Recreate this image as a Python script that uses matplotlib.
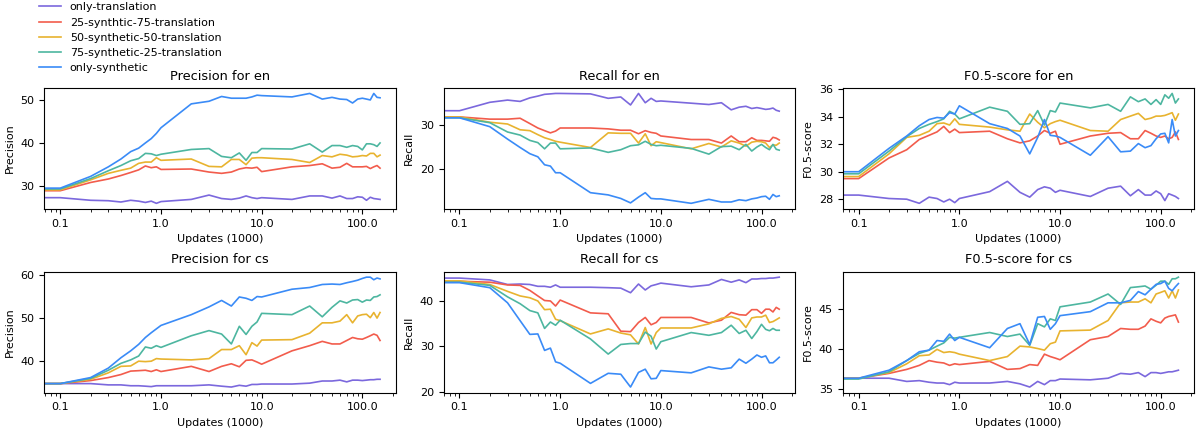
import matplotlib
matplotlib.use('Agg')
import matplotlib.pyplot as plt
from matplotlib.ticker import FormatStrFormatter

# update steps in thousands (first point is step 0)
updates = [0, 0.1, 0.2, 0.3, 0.4, 0.5, 0.6, 0.7, 0.8, 0.9,
           1, 2, 3, 4, 5, 6, 7, 8, 9,
           10, 20, 30, 40, 50, 60, 70, 80, 90,
           100, 110, 120, 130, 140, 150]

labels = ['only-translation', '25-synthtic-75-translation', '50-synthetic-50-translation',
          '75-synthetic-25-translation', 'only-synthetic']
colors = ['#7b68dd', '#f25c4c', '#e8b32f', '#4db6a0', '#3a8bf7']

# Precision for en
prec_en_t = [27.4, 27.4, 26.8, 26.7, 26.4, 26.8, 26.6, 26.3, 26.6, 26.1, 26.5, 27.0, 28.0, 27.2, 27.0, 27.3, 27.8,
             27.4, 27.2, 27.4, 27.0, 27.8, 27.8, 27.3, 27.8, 27.2, 27.2, 27.6, 27.5, 26.8, 27.5, 27.2, 27.1, 27.0]
prec_en_25 = [29.0, 29.0, 30.9, 31.7, 32.5, 33.2, 33.8, 34.7, 34.3, 34.5, 33.9, 34.0, 33.3, 33.0, 33.3, 34.0, 34.3,
              34.2, 34.4, 33.4, 34.5, 34.8, 35.2, 34.2, 34.4, 35.3, 34.5, 34.5, 34.5, 34.6, 34.1, 34.5, 34.8, 34.2]
prec_en_50 = [29.2, 29.2, 31.5, 33.0, 33.7, 34.2, 35.3, 35.6, 35.6, 36.6, 36.0, 36.3, 34.6, 34.5, 36.2, 36.2, 35.0,
              36.5, 36.6, 36.6, 36.2, 35.5, 37.1, 36.8, 37.4, 37.2, 36.8, 36.9, 37.1, 37.0, 37.6, 37.6, 36.8, 37.2]
prec_en_75 = [29.4, 29.4, 31.8, 33.6, 34.8, 35.9, 36.4, 37.6, 37.5, 37.1, 37.4, 38.5, 38.7, 36.9, 36.6, 37.7, 36.0,
              37.8, 37.8, 38.7, 38.6, 39.8, 37.9, 39.4, 39.4, 39.0, 39.4, 39.2, 38.4, 39.8, 39.8, 39.6, 39.2, 40.0]
prec_en_s = [29.6, 29.6, 32.3, 34.5, 36.3, 38.0, 38.8, 40.0, 41.0, 42.2, 43.5, 49.0, 49.6, 50.7, 50.3, 50.3, 50.3,
             50.6, 51.0, 50.9, 50.6, 51.4, 50.1, 50.5, 50.1, 50.0, 49.2, 50.1, 50.3, 50.1, 49.9, 51.4, 50.5, 50.4]

# Recall for en
rec_en_t = [33.1, 33.2, 35.1, 35.6, 35.3, 36.1, 36.5, 36.9, 37.0, 37.1, 37.1, 37.0, 36.0, 36.3, 34.5, 37.1, 35.0,
            36.0, 35.3, 35.4, 34.9, 34.6, 35.0, 33.4, 34.0, 34.2, 33.7, 33.9, 33.7, 33.5, 33.6, 33.8, 33.3, 33.1]
rec_en_25 = [31.8, 31.8, 31.3, 31.3, 31.5, 30.3, 29.3, 28.7, 28.2, 28.6, 29.3, 29.3, 29.1, 28.8, 28.8, 28.0, 28.7,
             28.3, 28.1, 27.5, 26.7, 26.7, 25.9, 27.5, 26.2, 26.2, 27.1, 26.5, 26.5, 26.4, 26.3, 27.2, 27.0, 26.6]
rec_en_50 = [31.8, 31.8, 30.6, 30.2, 28.9, 28.7, 27.8, 27.1, 26.7, 26.3, 26.1, 24.9, 28.2, 28.1, 28.1, 25.9, 28.0,
             25.3, 26.2, 26.0, 24.6, 25.8, 25.0, 26.4, 25.9, 25.2, 26.1, 26.3, 26.2, 25.9, 24.9, 25.5, 25.4, 25.9]
rec_en_75 = [31.6, 31.6, 30.5, 28.4, 27.7, 26.5, 26.0, 24.6, 25.9, 25.9, 24.6, 24.8, 23.8, 24.4, 25.3, 25.5, 26.3,
             25.6, 25.3, 25.4, 24.7, 23.4, 25.1, 25.2, 24.4, 25.6, 24.1, 25.0, 25.6, 24.9, 24.4, 25.6, 24.5, 24.3]
rec_en_s = [31.6, 31.6, 29.6, 26.8, 24.9, 23.5, 22.8, 21.0, 20.7, 19.2, 19.2, 14.7, 14.2, 13.4, 12.4, 13.7, 14.7,
            13.4, 13.3, 13.3, 12.3, 13.2, 12.6, 12.6, 13.1, 12.9, 13.3, 13.5, 13.8, 13.9, 13.2, 14.3, 13.8, 14.0]

# F0.5-score for en
f_en_t = [28.3, 28.3, 28.05, 28.0, 27.7, 28.15, 28.05, 27.8, 28.0, 27.75, 28.05, 28.55, 29.3, 28.5, 28.15, 28.7, 28.9,
          28.8, 28.5, 28.65, 28.2, 28.8, 28.95, 28.25, 28.7, 28.3, 28.3, 28.6, 28.4, 27.9, 28.4, 28.3, 28.2, 28.05]
f_en_25 = [29.5, 29.5, 31.0, 31.6, 32.35, 32.65, 32.9, 33.3, 32.85, 33.1, 32.85, 32.95, 32.4, 32.1, 32.25, 32.6, 33.0,
           32.8, 32.95, 32.0, 32.6, 32.8, 32.85, 32.4, 32.4, 33.0, 32.8, 32.6, 32.5, 32.6, 32.4, 32.5, 32.9, 32.35]
f_en_50 = [29.65, 29.65, 31.3, 32.5, 32.65, 32.95, 33.5, 33.55, 33.4, 33.85, 33.45, 33.25, 33.05, 32.95, 34.2, 33.6, 33.2,
           33.5, 33.65, 33.75, 33.0, 32.95, 33.8, 34.05, 34.25, 33.8, 33.9, 34.05, 34.05, 34.1, 34.2, 34.3, 33.75, 34.2]
f_en_75 = [29.85, 29.85, 31.5, 32.55, 33.15, 33.45, 33.65, 33.85, 34.4, 34.2, 33.85, 34.7, 34.4, 33.45, 33.5, 34.45, 33.4,
           34.45, 34.35, 35.0, 34.65, 34.9, 34.4, 35.45, 35.1, 35.3, 34.9, 35.25, 34.9, 35.6, 35.35, 35.7, 35.0, 35.3]
f_en_s = [30.0, 30.0, 31.7, 32.6, 33.35, 33.8, 33.95, 33.9, 34.3, 34.2, 34.8, 33.5, 33.15, 32.6, 31.3, 32.5, 33.8,
          32.65, 32.6, 32.5, 31.2, 32.55, 31.45, 31.5, 32.05, 31.75, 31.9, 32.4, 32.75, 32.8, 32.1, 33.8, 32.6, 33.0]

# Precision for cs
prec_cs_t = [34.8, 34.8, 34.8, 34.5, 34.5, 34.3, 34.3, 34.2, 34.1, 34.3, 34.3, 34.3, 34.5, 34.2, 34.0, 34.4, 34.2,
             34.6, 34.6, 34.7, 34.7, 34.9, 35.4, 35.4, 35.6, 35.2, 35.6, 35.6, 35.5, 35.6, 35.7, 35.7, 35.8, 35.8]
prec_cs_25 = [34.8, 34.8, 35.5, 36.2, 36.9, 37.7, 37.8, 37.9, 37.6, 38.0, 37.6, 38.8, 37.6, 38.8, 39.4, 38.7, 40.2,
              40.3, 39.8, 39.3, 42.4, 43.6, 44.6, 44.0, 44.0, 44.8, 45.5, 45.2, 45.1, 45.5, 45.9, 46.3, 46.0, 44.8]
prec_cs_50 = [34.8, 34.8, 35.8, 37.3, 38.8, 38.9, 40.0, 39.9, 40.0, 40.6, 40.5, 40.3, 40.6, 42.7, 42.7, 43.6, 41.5,
              44.3, 43.5, 44.9, 45.0, 46.5, 48.9, 48.9, 49.3, 50.8, 48.9, 50.5, 50.8, 50.9, 50.1, 51.3, 50.0, 51.3]
prec_cs_75 = [34.8, 34.8, 36.0, 37.9, 39.5, 40.3, 41.2, 43.3, 43.0, 43.6, 43.2, 45.9, 47.1, 46.3, 44.0, 48.1, 46.2,
              48.1, 49.1, 51.1, 50.8, 52.8, 50.3, 52.5, 54.0, 53.5, 54.2, 54.3, 53.7, 54.2, 54.1, 54.9, 55.0, 55.4]
prec_cs_s = [34.8, 34.8, 36.2, 38.4, 40.8, 42.4, 43.9, 45.5, 46.6, 47.5, 48.3, 50.8, 52.6, 54.1, 52.8, 54.9, 54.6,
             54.1, 55.0, 54.9, 56.7, 57.1, 57.8, 57.9, 57.8, 58.2, 58.5, 58.8, 59.2, 59.5, 59.5, 58.9, 59.3, 59.1]

# Recall for cs
rec_cs_t = [44.9, 44.9, 44.5, 43.5, 43.6, 43.5, 43.1, 43.1, 42.9, 43.4, 42.9, 42.9, 42.8, 42.7, 41.7, 43.6, 42.3,
            43.2, 43.5, 43.8, 43.0, 43.4, 44.6, 44.0, 44.5, 43.9, 44.7, 44.7, 44.8, 44.8, 44.9, 44.9, 45.0, 45.1]
rec_cs_25 = [44.2, 44.2, 44.0, 43.4, 43.3, 42.2, 41.0, 40.0, 39.9, 38.8, 40.1, 37.3, 37.1, 33.3, 33.2, 35.2, 36.3,
             34.7, 35.2, 36.3, 36.3, 35.1, 35.7, 37.4, 36.9, 36.8, 38.0, 38.0, 37.2, 38.1, 38.1, 37.5, 38.5, 38.1]
rec_cs_50 = [44.3, 44.3, 43.5, 42.0, 41.0, 40.6, 39.9, 38.0, 38.1, 35.9, 35.6, 32.7, 33.8, 32.9, 32.5, 30.5, 34.1,
             30.5, 33.0, 34.0, 34.0, 34.9, 36.1, 36.5, 35.9, 34.1, 36.2, 36.4, 36.4, 36.8, 35.2, 35.4, 35.8, 36.2]
rec_cs_75 = [44.0, 44.0, 43.3, 40.8, 39.3, 37.8, 37.3, 33.9, 35.3, 34.6, 35.7, 31.6, 28.3, 30.4, 30.6, 30.6, 33.1,
             32.2, 29.4, 31.0, 33.0, 32.4, 33.0, 34.6, 32.8, 33.5, 31.7, 33.2, 34.8, 33.7, 33.4, 33.9, 33.5, 33.5]
rec_cs_s = [43.9, 43.9, 42.8, 39.5, 35.6, 32.6, 32.7, 29.1, 29.6, 26.6, 26.3, 21.9, 24.1, 23.9, 21.1, 24.3, 25.0,
            22.9, 23.0, 24.7, 24.2, 25.5, 25.0, 25.3, 27.2, 26.3, 27.2, 28.1, 27.6, 27.9, 26.4, 26.4, 27.0, 27.6]

# F0.5-score for cs
f_cs_t = [36.4, 36.4, 36.4, 36.0, 36.1, 35.9, 35.8, 35.8, 35.6, 35.9, 35.8, 35.8, 36.0, 35.7, 35.3, 36.0, 35.6,
          36.1, 36.1, 36.3, 36.2, 36.4, 37.0, 36.9, 37.1, 36.6, 37.1, 37.1, 37.0, 37.1, 37.2, 37.2, 37.3, 37.4]
f_cs_25 = [36.4, 36.4, 37.0, 37.5, 38.0, 38.6, 38.4, 38.3, 38.0, 38.2, 38.1, 38.5, 37.5, 37.6, 38.1, 38.0, 39.4,
           39.1, 38.9, 38.7, 41.2, 41.6, 42.6, 42.5, 42.5, 42.9, 43.8, 43.5, 43.3, 43.9, 44.1, 44.2, 44.3, 43.4]
f_cs_50 = [36.4, 36.4, 37.1, 38.2, 39.2, 39.3, 40.0, 39.6, 39.7, 39.6, 39.4, 38.6, 39.1, 40.4, 40.3, 40.1, 39.9,
           40.7, 40.9, 42.3, 42.4, 43.6, 45.8, 45.9, 45.9, 46.3, 45.8, 46.9, 47.1, 47.3, 46.4, 47.3, 46.4, 47.4]
f_cs_75 = [36.3, 36.3, 37.2, 38.6, 39.5, 39.9, 40.4, 40.8, 41.5, 41.4, 41.5, 42.1, 41.6, 41.9, 40.5, 43.2, 42.8,
           43.8, 43.6, 45.3, 45.9, 46.9, 45.6, 47.7, 47.8, 47.9, 47.5, 48.0, 48.5, 48.5, 48.1, 48.8, 48.8, 49.0]
f_cs_s = [36.4, 36.4, 37.4, 38.6, 39.7, 39.9, 41.1, 41.0, 41.9, 41.1, 41.5, 40.2, 42.6, 43.2, 40.6, 44.0, 44.1,
          42.5, 43.2, 44.2, 44.7, 45.8, 45.8, 46.1, 47.2, 46.8, 47.5, 48.1, 48.2, 48.5, 47.6, 47.3, 47.8, 48.2]

panels = [
    ('Precision for en', 'Precision', [prec_en_t, prec_en_25, prec_en_50, prec_en_75, prec_en_s]),
    ('Recall for en', 'Recall', [rec_en_t, rec_en_25, rec_en_50, rec_en_75, rec_en_s]),
    ('F0.5-score for en', 'F0.5-score', [f_en_t, f_en_25, f_en_50, f_en_75, f_en_s]),
    ('Precision for cs', 'Precision', [prec_cs_t, prec_cs_25, prec_cs_50, prec_cs_75, prec_cs_s]),
    ('Recall for cs', 'Recall', [rec_cs_t, rec_cs_25, rec_cs_50, rec_cs_75, rec_cs_s]),
    ('F0.5-score for cs', 'F0.5-score', [f_cs_t, f_cs_25, f_cs_50, f_cs_75, f_cs_s]),
]

plt.rcParams['font.size'] = 8
fig, axes = plt.subplots(2, 3, figsize=(11.98, 4.29), dpi=100)
plt.subplots_adjust(left=0.037, right=0.997, top=0.795, bottom=0.085, wspace=0.135, hspace=0.52)

for ax, (title, ylabel, series) in zip(axes.flat, panels):
    for ys, lab, col in zip(series, labels, colors):
        ax.plot(updates, ys, color=col, lw=1.2, label=lab)
    ax.set_xscale('log')
    ax.xaxis.set_major_formatter(FormatStrFormatter('%.1f'))
    ax.set_title(title, fontsize=9.3)
    ax.set_ylabel(ylabel)
    ax.set_xlabel('Updates (1000)')

handles, labs = axes[0, 0].get_legend_handles_labels()
fig.legend(handles, labs, loc='upper left', bbox_to_anchor=(0.024, 1.018), frameon=False,
           fontsize=8, labelspacing=0.47, handlelength=2.0)

fig.savefig('out.png', dpi=100)
